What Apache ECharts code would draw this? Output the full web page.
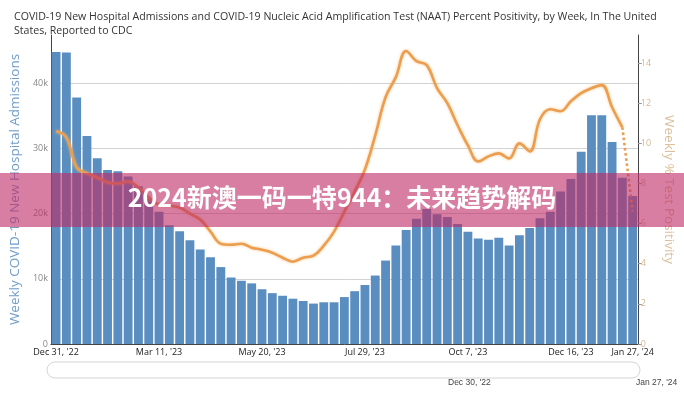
<!DOCTYPE html>
<html>
<head>
<meta charset="utf-8">
<script src="https://cdn.jsdelivr.net/npm/echarts@6/dist/echarts.min.js"></script>
<style>
  html, body { margin: 0; padding: 0; background: #fff; }
  #chart { width: 684px; height: 400px; }
</style>
</head>
<body>
<div id="chart"></div>
<script>
const weeks = [
  "Dec 31, '22", "Jan 7, '23", "Jan 14, '23", "Jan 21, '23", "Jan 28, '23", "Feb 4, '23", "Feb 11, '23", "Feb 18, '23",
  "Feb 25, '23", "Mar 4, '23", "Mar 11, '23", "Mar 18, '23", "Mar 25, '23", "Apr 1, '23", "Apr 8, '23", "Apr 15, '23",
  "Apr 22, '23", "Apr 29, '23", "May 6, '23", "May 13, '23", "May 20, '23", "May 27, '23", "Jun 3, '23", "Jun 10, '23",
  "Jun 17, '23", "Jun 24, '23", "Jul 1, '23", "Jul 8, '23", "Jul 15, '23", "Jul 22, '23", "Jul 29, '23", "Aug 5, '23",
  "Aug 12, '23", "Aug 19, '23", "Aug 26, '23", "Sep 2, '23", "Sep 9, '23", "Sep 16, '23", "Sep 23, '23", "Sep 30, '23",
  "Oct 7, '23", "Oct 14, '23", "Oct 21, '23", "Oct 28, '23", "Nov 4, '23", "Nov 11, '23", "Nov 18, '23", "Nov 25, '23",
  "Dec 2, '23", "Dec 9, '23", "Dec 16, '23", "Dec 23, '23", "Dec 30, '23", "Jan 6, '24", "Jan 13, '24", "Jan 20, '24",
  "Jan 27, '24"
]
const labelWeeks = [0, 10, 20, 30, 40, 50, 56]

// weekly new hospital admissions
const admissions = [
  44800, 44700, 37800, 31900, 28500, 26700, 26500, 25700, 24200, 22300,
  20300, 18200, 17300, 15900, 14500, 13300, 11800, 10200, 9700, 9300,
  8400, 7800, 7400, 6950, 6600, 6200, 6400, 6400, 7200, 8100,
  9050, 10500, 12800, 15100, 17500, 19200, 20700, 19900, 19500, 18400,
  17200, 16200, 16000, 16300, 15100, 16700, 17800, 19300, 20300, 23400,
  25300, 29500, 35100, 35100, 31000, 25500, 22700
]

// weekly % test positivity (last week still provisional -> dotted)
const positivity = [
  10.6, 10.3, 8.8, 8.5, 8.3, 8.05, 8.0, 8.1, 7.8, 7.3,
  6.95, 6.9, 6.8, 6.5, 6.2, 5.6, 5.0, 4.95, 5.0, 4.8,
  4.7, 4.55, 4.3, 4.1, 4.3, 4.4, 4.9, 5.6, 6.6, 7.6,
  8.7, 10.4, 12.3, 13.3, 14.6, 14.1, 13.9, 12.75, 12.0, 10.9,
  9.9, 9.1, 9.35, 9.5, 9.25, 10.0, 9.6, 11.2, 11.7, 11.6,
  12.1, 12.5, 12.75, 12.9, 11.8, 10.8, 6.6
]
const provisionalFrom = 55

const solid = positivity.map((v, i) => (i <= provisionalFrom ? v : null))
const dotted = positivity.map((v, i) => (i >= provisionalFrom ? v : null))

const chart = echarts.init(document.getElementById('chart'))

chart.setOption({
  animation: false,
  textStyle: { fontFamily: '"Open Sans", "Noto Sans", sans-serif' },
  title: {
    text: 'COVID-19 New Hospital Admissions and COVID-19 Nucleic Acid Amplification Test (NAAT) Percent Positivity, by Week, In The United\nStates, Reported to CDC',
    left: 9,
    top: 5,
    textStyle: { fontSize: 10.6, fontWeight: 'normal', color: '#333', lineHeight: 14 },
  },
  grid: { left: 47, right: 44, top: 35, bottom: 56 },
  xAxis: {
    type: 'category',
    data: weeks,
    axisLine: { lineStyle: { color: '#444' } },
    axisTick: { show: false },
    axisLabel: {
      color: '#222',
      fontSize: 9,
      margin: 4,
      interval: (i) => labelWeeks.includes(i),
    },
  },
  yAxis: [
    {
      type: 'value',
      min: 0,
      max: 47400,
      interval: 10000,
      name: 'Weekly COVID-19 New Hospital Admissions',
      nameLocation: 'middle',
      nameGap: 27,
      nameTextStyle: { color: '#6f9dcb', fontSize: 13.5 },
      axisLine: { show: true, lineStyle: { color: '#444' } },
      axisTick: { show: false },
      axisLabel: {
        color: '#888',
        fontSize: 9,
        margin: 3,
        showMaxLabel: false,
        formatter: (v) => (v === 0 ? '0' : v / 1000 + 'k'),
      },
      splitLine: { showMinLine: false, showMaxLine: false, lineStyle: { color: '#d2d2d2' } },
    },
    {
      type: 'value',
      position: 'right',
      min: 0,
      max: 15.4,
      interval: 2,
      name: 'Weekly % Test Positivity',
      nameLocation: 'middle',
      nameRotate: -90,
      nameGap: 22,
      nameTextStyle: { color: '#dcc09c', fontSize: 13.5 },
      axisLine: { show: true, lineStyle: { color: '#444' } },
      axisTick: { show: true, length: 4, lineStyle: { color: '#999' } },
      axisLabel: { color: '#d6b68e', fontSize: 9, margin: 3, showMaxLabel: false },
      splitLine: { show: false },
    },
  ],
  series: [
    {
      name: 'Weekly COVID-19 New Hospital Admissions',
      type: 'bar',
      data: admissions,
      barCategoryGap: '14%',
      itemStyle: { color: '#5b8ec0' },
    },
    {
      name: 'Weekly % Test Positivity',
      type: 'line',
      yAxisIndex: 1,
      data: solid,
      smooth: 0.4,
      showSymbol: false,
      lineStyle: { color: '#eb9e50', width: 2.6, shadowColor: 'rgba(245,185,110,0.8)', shadowBlur: 3 },
      z: 3,
    },
    {
      name: 'Weekly % Test Positivity (provisional)',
      type: 'line',
      yAxisIndex: 1,
      data: dotted,
      showSymbol: false,
      lineStyle: { color: '#eb9e50', width: 2.6, type: 'dotted' },
      z: 3,
    },
  ],
  graphic: [
    // range slider outline below the plot
    {
      type: 'rect',
      shape: { x: 47, y: 362, width: 593, height: 16, r: 8 },
      style: { fill: '#fff', stroke: '#d4d4d4', lineWidth: 1 },
    },
    { type: 'text', left: 448, top: 378, style: { text: "Dec 30, '22", fill: '#444', fontSize: 8.5 } },
    { type: 'text', left: 636, top: 378, style: { text: "Jan 27, '24", fill: '#444', fontSize: 8.5 } },
    // overlaid banner
    {
      type: 'rect',
      shape: { x: 0, y: 173, width: 684, height: 54 },
      style: { fill: 'rgba(190,40,100,0.6)' },
      z: 100,
    },
    {
      type: 'text',
      left: 'center',
      top: 185,
      z: 101,
      style: {
        text: '2024新澳一码一特944：未来趋势解码',
        fill: '#fff',
        fontSize: 25,
        fontWeight: 'bold',
        fontFamily: '"Noto Sans CJK SC", sans-serif',
        shadowColor: 'rgba(80,0,30,0.4)',
        shadowBlur: 3,
      },
    },
  ],
})
</script>
</body>
</html>
